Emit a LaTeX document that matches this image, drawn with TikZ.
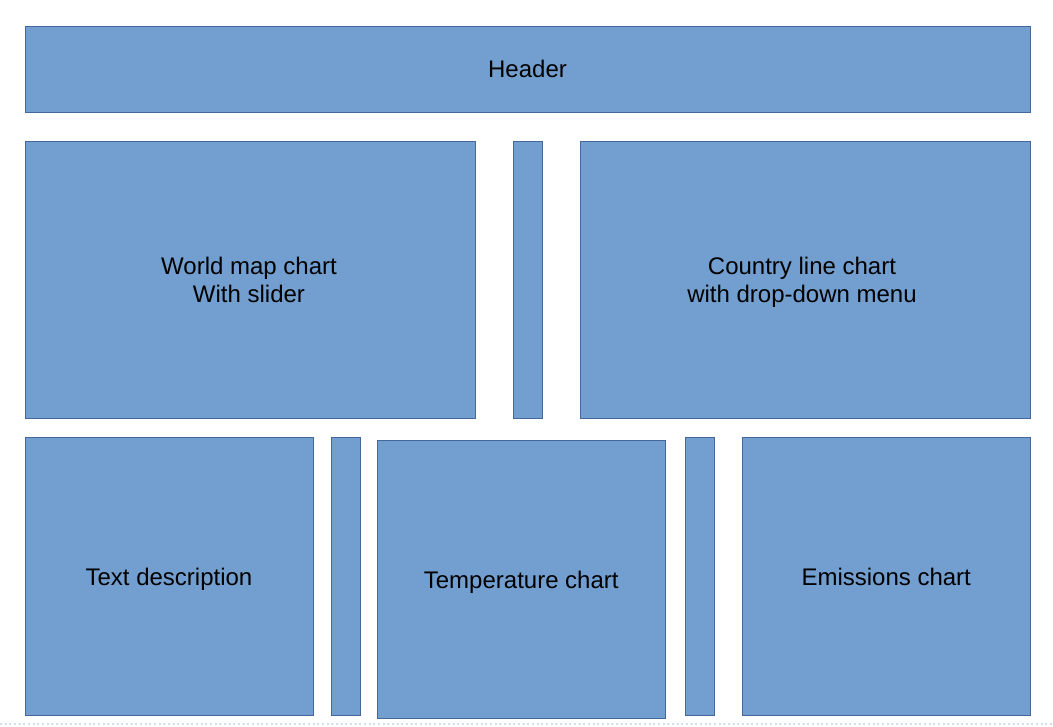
\documentclass[tikz,border=0pt]{standalone}
\usepackage{fontspec}
\setmainfont{Liberation Sans}
\usetikzlibrary{fit}
\definecolor{boxfill}{HTML}{729FCF}
\definecolor{boxline}{HTML}{45689A}
\definecolor{pageline}{HTML}{D3DCEB}
\tikzset{
  panel/.style={draw=boxline, fill=boxfill, line width=0.75pt, inner sep=0pt},
  lbl/.style={inner sep=0pt, align=center, font=\fontsize{18}{21}\selectfont, text=black, anchor=center}
}
\begin{document}
\begin{tikzpicture}[x=0.75pt, y=-0.75pt]
\useasboundingbox (0,0) rectangle (1053,726);
\fill[white] (0,0) rectangle (1053,726);
\draw[pageline, line width=1.5pt, dotted] (0,724) -- (1053,724);
\node[panel, fit={(25,26)(1030,112)}] (header) {};
\node[panel, fit={(25,141)(475,418)}] (world) {};
\node[panel, fit={(513,141)(542.5,418)}] (slider) {};
\node[panel, fit={(580,141)(1030,418)}] (country) {};
\node[panel, fit={(25,437.5)(313,715)}] (text) {};
\node[panel, fit={(331,437.5)(360.5,715)}] (gap1) {};
\node[panel, fit={(377,440)(665.5,718)}] (temp) {};
\node[panel, fit={(685,437.5)(714.5,715)}] (gap2) {};
\node[panel, fit={(742.5,437.5)(1030,715)}] (emis) {};
\node[lbl] (headerl) at (header.center) {Header};
\node[lbl] (worldl) at ([xshift=-0.75pt]world.center) {World map chart\\With slider};
\node[lbl] (countryl) at ([xshift=-2.25pt, yshift=-2.25pt]country.center) {Country line chart\\with drop-down menu};
\node[lbl] (textl) at ([yshift=-2.25pt]text.center) {Text description};
\node[lbl] (templ) at ([yshift=-2.25pt]temp.center) {Temperature chart};
\node[lbl] (emisl) at ([yshift=-0.75pt]emis.center) {Emissions chart};
\end{tikzpicture}
\end{document}
